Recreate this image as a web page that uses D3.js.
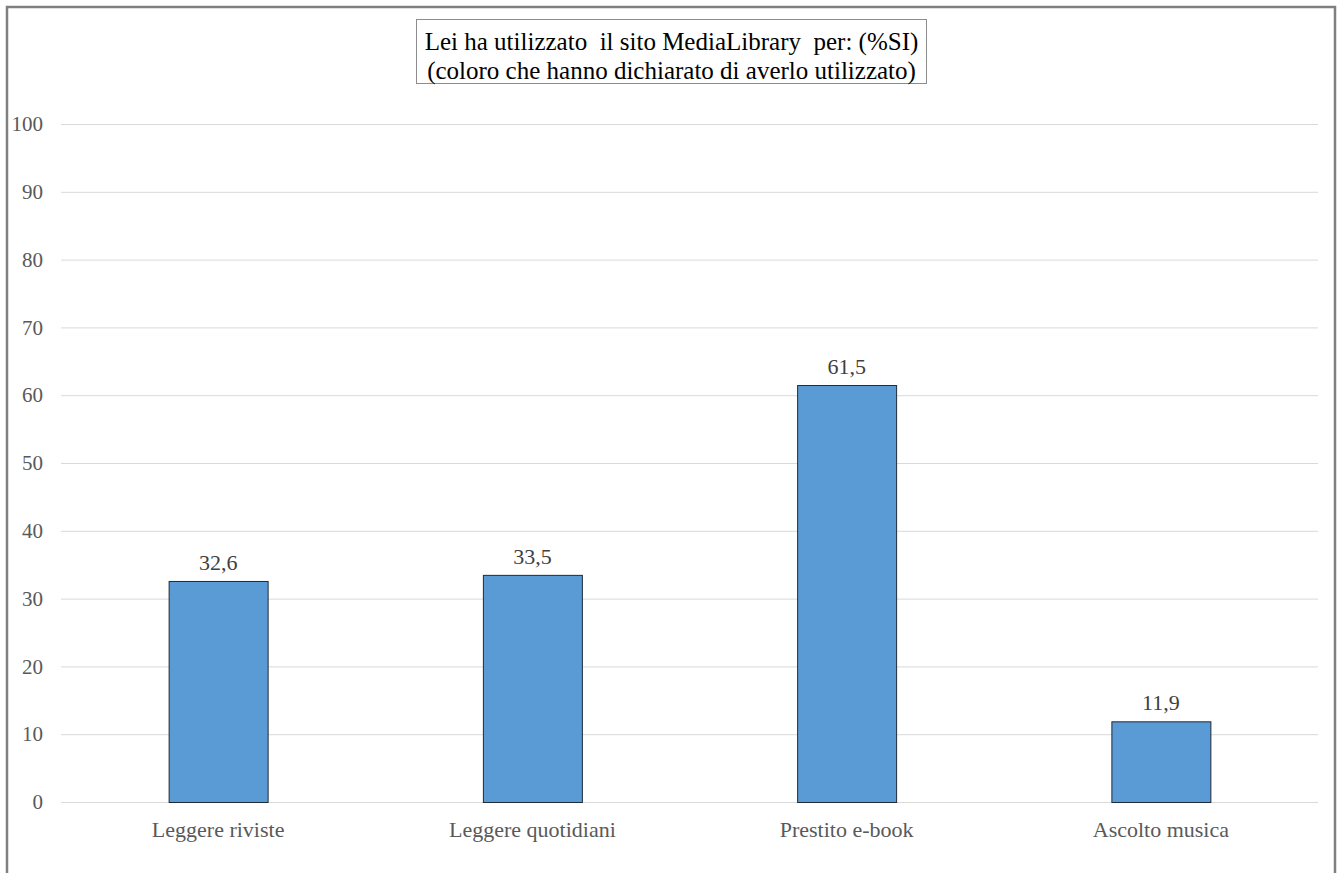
<!DOCTYPE html>
<html><head><meta charset="utf-8">
<script src="https://cdn.jsdelivr.net/npm/d3@7"></script>
<style>body{margin:0;background:#fff}svg{display:block}</style>
</head><body>
<svg id="c" width="1343" height="873"></svg>
<script>
const categories = ["Leggere riviste", "Leggere quotidiani", "Prestito e-book", "Ascolto musica"];
const values = [32.6, 33.5, 61.5, 11.9];
const valueLabels = ["32,6", "33,5", "61,5", "11,9"];
const yTicks = [0, 10, 20, 30, 40, 50, 60, 70, 80, 90, 100];
const titleLines = ["Lei ha utilizzato  il sito MediaLibrary  per: (%SI)", "(coloro che hanno dichiarato di averlo utilizzato)"];

const svg = d3.select("#c");
const font = "'Liberation Serif', 'Times New Roman', serif";

// outer frame
svg.append("rect").attr("x", 7).attr("y", 7).attr("width", 1328).attr("height", 900)
  .attr("fill", "#fff").attr("stroke", "#7f7f7f").attr("stroke-width", 2.5);

const plotLeft = 61, plotRight = 1318, plotTop = 124, plotBottom = 802;
const x = d3.scaleBand().domain(categories).range([plotLeft, plotRight]).paddingInner(0.685).paddingOuter(0.3425);
const y = d3.scaleLinear().domain([0, 100]).range([plotBottom, plotTop]);

// gridlines
svg.append("g").selectAll("line").data(yTicks).join("line")
  .attr("x1", plotLeft).attr("x2", plotRight)
  .attr("y1", d => y(d) + 0.5).attr("y2", d => y(d) + 0.5)
  .attr("stroke", "#d9d9d9").attr("stroke-width", 1);

// y axis labels
const yAxis = d3.axisLeft(y).tickValues(yTicks).tickSize(0).tickPadding(0);
const gy = svg.append("g").attr("transform", `translate(${plotLeft - 18},0)`).call(yAxis);
gy.select(".domain").remove();
gy.selectAll("text").attr("font-family", font).attr("font-size", 21).attr("fill", "#595959");

// x axis labels
const xAxis = d3.axisBottom(x).tickSize(0).tickPadding(0);
const gx = svg.append("g").attr("transform", `translate(0,${plotBottom})`).call(xAxis);
gx.select(".domain").remove();
gx.selectAll("text").attr("font-family", font).attr("font-size", 22).attr("fill", "#595959")
  .attr("dy", null).attr("y", 35);

// bars
svg.append("g").selectAll("rect").data(values).join("rect")
  .attr("x", (d, i) => x(categories[i]) + 0.5)
  .attr("y", d => y(d) + 0.5)
  .attr("width", x.bandwidth())
  .attr("height", d => y(0) - y(d))
  .attr("fill", "#5b9bd5").attr("stroke", "#1f2a36").attr("stroke-width", 1);

// value labels
svg.append("g").selectAll("text").data(values).join("text")
  .attr("x", (d, i) => x(categories[i]) + x.bandwidth() / 2)
  .attr("y", d => y(d) - 11)
  .attr("text-anchor", "middle")
  .attr("font-family", font).attr("font-size", 22).attr("fill", "#404040")
  .text((d, i) => valueLabels[i]);

// title box
svg.append("rect").attr("x", 416.5).attr("y", 19.5).attr("width", 510).attr("height", 64)
  .attr("fill", "#fff").attr("stroke", "#8c8c8c").attr("stroke-width", 1);
svg.append("g").selectAll("text").data(titleLines).join("text")
  .attr("x", 671.5).attr("y", (d, i) => 50 + i * 29)
  .attr("text-anchor", "middle")
  .attr("font-family", font).attr("font-size", 25).attr("fill", "#000")
  .style("white-space", "pre")
  .text(d => d);
</script>
</body></html>
